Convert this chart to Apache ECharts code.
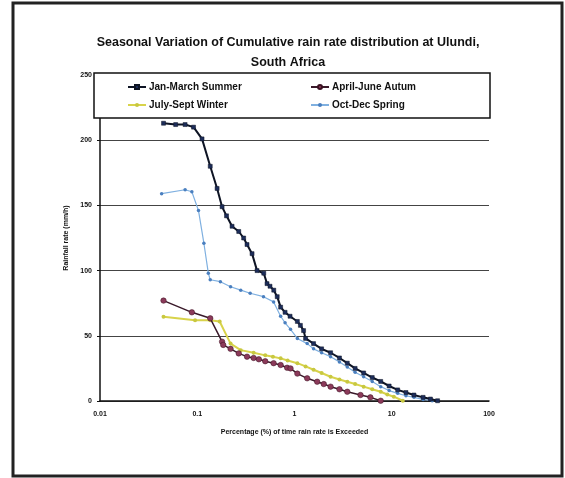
<!DOCTYPE html>
<html>
<head>
<meta charset="utf-8">
<script src="https://cdn.jsdelivr.net/npm/echarts@6/dist/echarts.min.js"></script>
<style>html,body{margin:0;padding:0;background:#fff}#c{width:565px;height:478px}</style>
</head>
<body>
<div id="c"></div>
<script>
var xTickLabels = ["0.01", "0.1", "1", "10", "100"];
var yTickLabels = ["0", "50", "100", "150", "200", "250"];
var seriesNames = ["Jan-March Summer", "April-June Autum", "July-Sept Winter", "Oct-Dec Spring"];

var summerX = [0.045, 0.06, 0.075, 0.0916, 0.112, 0.136, 0.16, 0.18, 0.2, 0.228, 0.267, 0.30, 0.325, 0.366, 0.412, 0.483, 0.522, 0.56, 0.612, 0.664, 0.72, 0.80, 0.9, 1.07, 1.15, 1.24, 1.30, 1.57, 1.9, 2.35, 2.9, 3.49, 4.2, 5.14, 6.3, 7.7, 9.4, 11.5, 14, 16.9, 21, 25, 29.6];
var summerY = [213, 212, 212, 210, 201, 180, 163, 149, 142, 134, 130, 125, 120, 113, 100, 98, 90, 88, 85, 80, 72, 68, 65, 61, 58, 54, 48, 44, 40, 37, 33, 29, 25, 21.5, 18, 15, 11.5, 8.5, 6.5, 4.6, 2.8, 1.5, 0.2];

var autumnX = [0.045, 0.088, 0.136, 0.18, 0.185, 0.22, 0.267, 0.325, 0.38, 0.43, 0.5, 0.61, 0.72, 0.84, 0.91, 1.07, 1.35, 1.71, 2.0, 2.35, 2.9, 3.49, 4.77, 6.03, 7.7];
var autumnY = [77, 68, 63.4, 45.5, 43, 40, 36.5, 34, 33, 32, 30.5, 29, 27.6, 25.5, 25, 21, 17.4, 14.8, 13, 11, 9, 7.1, 4.6, 2.8, 0.2];

var winterX = [0.045, 0.095, 0.136, 0.17, 0.22, 0.28, 0.38, 0.5, 0.6, 0.72, 0.85, 1.07, 1.3, 1.57, 1.9, 2.35, 2.9, 3.49, 4.2, 5.14, 6.3, 7.7, 9, 10.5, 13];
var winterY = [64.6, 62, 62, 61, 44, 39, 37, 35, 34, 32.7, 31, 29, 26.5, 24, 21.5, 18.6, 16.5, 14.8, 13, 11, 9, 7.1, 5, 3.3, 0.2];

var springX = [0.043, 0.075, 0.088, 0.103, 0.117, 0.130, 0.136, 0.173, 0.22, 0.28, 0.35, 0.48, 0.61, 0.72, 0.80, 0.91, 1.07, 1.35, 1.57, 1.9, 2.35, 2.9, 3.49, 4.2, 5.14, 6.3, 7.7, 9.4, 11.5, 14, 16.9, 21, 26];
var springY = [159, 162, 160.5, 146, 121, 98, 93, 91.5, 87.6, 85, 82.6, 80, 76, 65, 60, 55, 48, 44, 40, 37, 34, 30, 26, 22, 18.6, 15, 11, 8, 5.9, 4, 2.8, 1.2, 0.2];

function pairs(xs, ys) { return xs.map(function (x, i) { return [x, ys[i]]; }); }

var FONT = '"Liberation Sans", Arial, sans-serif';
var chart = echarts.init(document.getElementById('c'), null, { renderer: 'canvas' });

function legendAt(name, left, top) {
  return {
    data: [name], left: left, top: top, orient: 'horizontal', padding: 0,
    itemWidth: 18, itemHeight: 5, itemGap: 3, z: 20,
    textStyle: { fontFamily: FONT, fontWeight: 'bold', fontSize: 10, color: '#111', padding: [0, 0, 0, -2] }
  };
}

chart.setOption({
  animation: false,
  backgroundColor: '#fff',
  title: {
    text: 'Seasonal Variation of Cumulative rain rate distribution at Ulundi,\nSouth Africa',
    left: 283, textAlign: 'center', top: 28,
    textStyle: { fontFamily: FONT, fontWeight: 'bold', fontSize: 12.5, lineHeight: 20, color: '#111' }
  },
  graphic: [
    { type: 'rect', shape: { x: 13, y: 3, width: 549, height: 473 }, style: { fill: 'none', stroke: '#222', lineWidth: 3 }, z: 30 },
    { type: 'rect', shape: { x: 94, y: 73, width: 396, height: 45 }, style: { fill: '#fff', stroke: '#111', lineWidth: 1.5 }, z: 10 }
  ],
  legend: [
    legendAt(seriesNames[0], 127, 82),
    legendAt(seriesNames[1], 310, 82),
    legendAt(seriesNames[2], 127, 100),
    legendAt(seriesNames[3], 310, 100)
  ],
  grid: { left: 100, right: 76, top: 75, bottom: 77 },
  xAxis: {
    type: 'log', logBase: 10, min: 0.01, max: 100,
    name: 'Percentage (%) of time rain rate is Exceeded',
    nameLocation: 'middle', nameGap: 28,
    nameTextStyle: { fontFamily: FONT, fontWeight: 'bold', fontSize: 7, color: '#111' },
    axisLine: { lineStyle: { color: '#111', width: 1.5 } },
    axisTick: { show: false },
    splitLine: { show: false },
    axisLabel: {
      fontFamily: FONT, fontWeight: 'bold', fontSize: 7, color: '#111', margin: 10,
      formatter: function (v) { var i = Math.round(Math.log10(v)) + 2; return xTickLabels[i] || ''; }
    }
  },
  yAxis: {
    type: 'value', min: 0, max: 250, interval: 50,
    name: 'Rainfall rate (mm/h)',
    nameLocation: 'middle', nameGap: 30, nameRotate: 90,
    nameTextStyle: { fontFamily: FONT, fontWeight: 'bold', fontSize: 7, color: '#111' },
    axisLine: { show: true, lineStyle: { color: '#111', width: 1.5 } },
    axisTick: { show: true, length: 3, lineStyle: { color: '#111' } },
    splitLine: { show: true, lineStyle: { color: '#444', width: 1 } },
    axisLabel: {
      fontFamily: FONT, fontWeight: 'bold', fontSize: 7, color: '#111', margin: 8,
      formatter: function (v) { return yTickLabels[Math.round(v / 50)]; }
    }
  },
  series: [
    {
      name: seriesNames[0], type: 'line', data: pairs(summerX, summerY), z: 5,
      symbol: 'rect', symbolSize: 4,
      lineStyle: { color: '#0e1424', width: 2 },
      itemStyle: { color: '#1d2d5a', borderColor: '#0e1424', borderWidth: 0.5 }
    },
    {
      name: seriesNames[1], type: 'line', data: pairs(autumnX, autumnY), z: 4,
      symbol: 'circle', symbolSize: 5.5,
      lineStyle: { color: '#3a1a2a', width: 1.5 },
      itemStyle: { color: '#8b3a5a', borderColor: '#3a1020', borderWidth: 0.5 }
    },
    {
      name: seriesNames[2], type: 'line', data: pairs(winterX, winterY), z: 3,
      symbol: 'circle', symbolSize: 4,
      lineStyle: { color: '#d8d34a', width: 2 },
      itemStyle: { color: '#c8c840' }
    },
    {
      name: seriesNames[3], type: 'line', data: pairs(springX, springY), z: 4,
      symbol: 'circle', symbolSize: 3.5,
      lineStyle: { color: '#7fb0e0', width: 1.2 },
      itemStyle: { color: '#4a7fbf' }
    }
  ]
});
</script>
</body>
</html>
